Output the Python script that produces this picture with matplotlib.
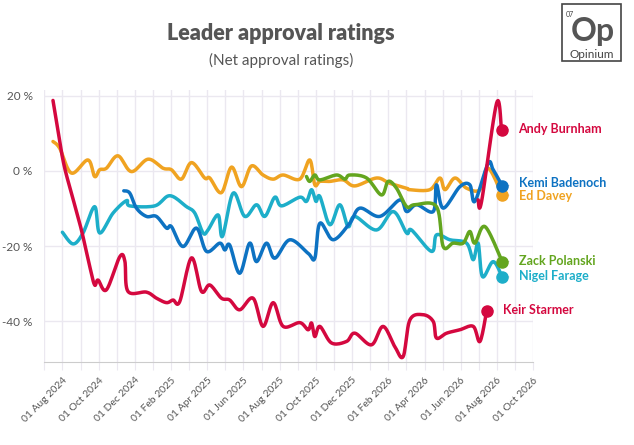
import numpy as np
import matplotlib.pyplot as plt
from matplotlib.patches import Rectangle

# x values are months since 01 Aug 2024
starmer_x = [-0.52, 0.03, 0.5, 1.05, 1.51, 1.78, 1.97, 2.43, 3.17, 3.45, 3.62, 4.64, 5.19, 5.75, 6.11, 6.48,
             7.13, 7.68, 8.14, 8.78, 9.24, 9.79, 10.53, 11.08, 11.64, 12.19, 13.11, 13.57, 13.76, 13.94, 14.22,
             14.86, 15.69, 16.15, 17.07, 17.71, 18.36, 18.82, 19.19, 19.92, 20.48, 20.66, 21.22, 21.95, 22.69,
             23.06, 23.43]
starmer_y = [18.7, 2.9, -5.9, -15.7, -25.4, -30.3, -29, -31.6, -22.8, -24, -32, -32.2, -33.8, -35, -34.3, -34.7,
             -23.1, -32, -30.3, -33.8, -34.3, -36.9, -33.8, -41.3, -35, -41.3, -40.3, -42.2, -40.4, -44, -41.3,
             -45.7, -45.3, -43.1, -46.2, -41.3, -46.7, -49.3, -39.6, -38.2, -40, -44.4, -43.1, -42.2, -41.3,
             -45.3, -37.2]
burnham_x = [22.96, 23.15, 23.98, 24.25]
burnham_y = [-7.7, -8.1, 18, 10.9]
kemi_x = [3.39, 3.72, 4.09, 4.64, 5.19, 5.75, 6.02, 6.66, 7.4, 7.96, 8.69, 8.97, 9.24, 9.79, 10.34, 10.72,
          11.27, 11.73, 12.56, 13.57, 13.94, 14.22, 14.95, 15.87, 16.43, 17.53, 18.64, 19.01, 19.56, 20.48,
          20.66, 21.03, 21.95, 22.5, 22.78, 23.51, 23.79, 24.29]
kemi_y = [-5.3, -5.9, -9.9, -12.1, -12.1, -15.2, -14.8, -20.1, -15.2, -21.4, -19.2, -21, -19.7, -27.2, -19.2,
          -24.1, -19.2, -23.2, -18.3, -21.9, -23.2, -13.9, -18.3, -13.9, -9.9, -12.1, -7.7, -10.8, -9, -10.8,
          -3.7, -9.9, -4.2, -3.7, -8.1, 2, 0.3, -4]
davey_x = [-0.52, -0.15, 0.5, 1.41, 1.78, 2.06, 2.43, 3.07, 3.81, 4.73, 5.56, 6.02, 6.57, 7.13, 7.86, 8.14,
           8.78, 9.34, 9.89, 10.44, 11.08, 11.64, 12.19, 13.11, 13.66, 13.94, 14.22, 14.77, 15.5, 16.15, 17.35,
           18.08, 19.01, 19.19, 20.29, 20.85, 21.13, 21.68, 22.32, 23.06, 23.51, 24.29]
davey_y = [7.8, 6, -0.6, 2.9, -1.5, 0.3, 0.7, 4, -0.2, 3.1, 0.7, 0.3, -2.2, 2.2, -1.9, -1.9, -5.8, 1, -4.2, 1.3,
           -1.1, -2.2, -1.1, -2.2, 2.9, -3.7, -2.8, -2.8, -2.4, -4, -1.9, -3.3, -4.6, -5, -5, -1.9, -5, -1.9,
           -4.6, -5, 0.7, -6.4]
polanski_x = [13.48, 13.66, 13.94, 14.22, 15.14, 15.6, 15.87, 16.8, 17.62, 17.99, 18.45, 19.01, 19.46, 20.66,
              21.03, 21.57, 22.13, 22.5, 22.78, 23.34, 24.29]
polanski_y = [-1.5, -2.8, -1.1, -2.4, -1.1, -2.2, -1.1, -1.9, -6.4, -2.8, -4.6, -9.5, -9, -9.5, -20.1, -19.2,
              -19.2, -16.1, -19.2, -14.8, -24.1]
farage_x = [0, 0.59, 1.14, 1.78, 2.06, 2.8, 3.54, 3.72, 5.1, 5.93, 6.85, 7.31, 7.77, 8.04, 8.6, 8.84, 9.43,
            10.07, 10.72, 11.18, 11.73, 12.1, 13.11, 13.48, 13.76, 14.0, 14.22, 14.77, 15.32, 15.78, 16.15,
            17.35, 18.27, 19.01, 19.28, 20.39, 20.66, 21.4, 22.32, 22.69, 22.96, 23.2, 23.79, 24.29]
farage_y = [-16.3, -19.4, -16.5, -9.5, -16.5, -11.2, -7.9, -9.3, -9.3, -6.6, -9.5, -11.2, -16.5, -15.7, -11.7,
            -17.4, -5.9, -12.1, -9, -12.1, -7, -9.3, -7, -8.1, -5, -8.1, -6.8, -14.3, -9, -14.8, -12.1, -15.7,
            -10.8, -16.5, -15.7, -21.4, -17, -18.3, -19.2, -23.6, -19.2, -28.1, -24.1, -28.2]

month_names = ["Aug 2024", "Oct 2024", "Dec 2024", "Feb 2025", "Apr 2025", "Jun 2025", "Aug 2025", "Oct 2025",
               "Dec 2025", "Feb 2026", "Apr 2026", "Jun 2026", "Aug 2026", "Oct 2026"]


def smooth(x, y, n=12):
    # catmull-rom through the points
    x = np.asarray(x, float)
    y = np.asarray(y, float)
    px = np.concatenate([[x[0]], x, [x[-1]]])
    py = np.concatenate([[y[0]], y, [y[-1]]])
    t = np.linspace(0, 1, n, endpoint=False)
    ox, oy = [], []
    for i in range(1, len(px) - 2):
        for a, o in ((px, ox), (py, oy)):
            p0, p1, p2, p3 = a[i - 1], a[i], a[i + 1], a[i + 2]
            o.extend(0.5 * (2 * p1 + (-p0 + p2) * t + (2 * p0 - 5 * p1 + 4 * p2 - p3) * t ** 2
                            + (-p0 + 3 * p1 - 3 * p2 + p3) * t ** 3))
    ox.append(x[-1])
    oy.append(y[-1])
    return ox, oy


RED = "#d4083f"
series = [
    (davey_x, davey_y, "#f0a321", "Ed Davey", -6.8),
    (farage_x, farage_y, "#1daec9", "Nigel Farage", -28.0),
    (kemi_x, kemi_y, "#0d72c2", "Kemi Badenoch", -3.2),
    (polanski_x, polanski_y, "#63a51f", "Zack Polanski", -24.0),
    (starmer_x, starmer_y, RED, "Keir Starmer", -37.0),
    (burnham_x, burnham_y, RED, "Andy Burnham", 11.0),
]

plt.rcParams['font.family'] = ['Lato', 'DejaVu Sans']
fig = plt.figure(figsize=(6.34, 4.45), dpi=100)
ax = fig.add_axes([0.069, 0.187, 0.772, 0.611])

for x, y, c, name, ly in series:
    sx, sy = smooth(x, y)
    ax.plot(sx, sy, color=c, lw=2.5, solid_capstyle="round", zorder=3)
    ax.plot(x[-1], y[-1], "o", color=c, ms=8, zorder=4)
    ax.annotate(name, (x[-1], y[-1]), xytext=(x[-1] + 0.9, ly), textcoords="data",
                color=c, fontsize=9, fontweight="bold", va="center",
                arrowprops=dict(arrowstyle="-", color="#bbbbbb", lw=0.8, shrinkA=5, shrinkB=5))

ax.set_xlim(-1.03, 25.95)
ax.set_ylim(-50.7, 21.5)
ax.set_xticks(range(-1, 27))
ax.set_xticklabels(["01 " + month_names[i // 2] if i >= 0 and i % 2 == 0 else "" for i in range(-1, 27)],
                   rotation=45, ha="right", rotation_mode="anchor", fontsize=7.5, color="#555555")
ax.set_yticks([20, 0, -20, -40])
ax.set_yticklabels(["20 %", "0 %", "-20 %", "-40 %"], fontsize=8.5, color="#555555")
ax.grid(True, color="#ebe8f0", lw=1)
ax.set_axisbelow(True)
for s in ["top", "right", "left"]:
    ax.spines[s].set_visible(False)
ax.spines["bottom"].set_color("#cccccc")
ax.tick_params(axis="y", length=0, pad=8)
ax.tick_params(axis="x", length=6, color="#ebe8f0", pad=4)

fig.text(0.443, 0.925, "Leader approval ratings", ha="center", va="center", fontsize=15.5,
         fontweight="heavy", color="#555555")
fig.text(0.443, 0.865, "(Net approval ratings)", ha="center", va="center", fontsize=11, color="#555555")

# logo
fig.patches.append(Rectangle((0.887, 0.862), 0.093, 0.128, transform=fig.transFigure,
                             fill=False, ec="#444444", lw=1.2))
fig.text(0.893, 0.968, "07", fontsize=5, color="#444444", va="center")
fig.text(0.935, 0.93, "Op", fontsize=23, fontweight="bold", color="#555555", ha="center", va="center")
fig.text(0.933, 0.878, "Opinium", fontsize=8.5, color="#444444", ha="center", va="center")

fig.savefig("out.png", dpi=100)
